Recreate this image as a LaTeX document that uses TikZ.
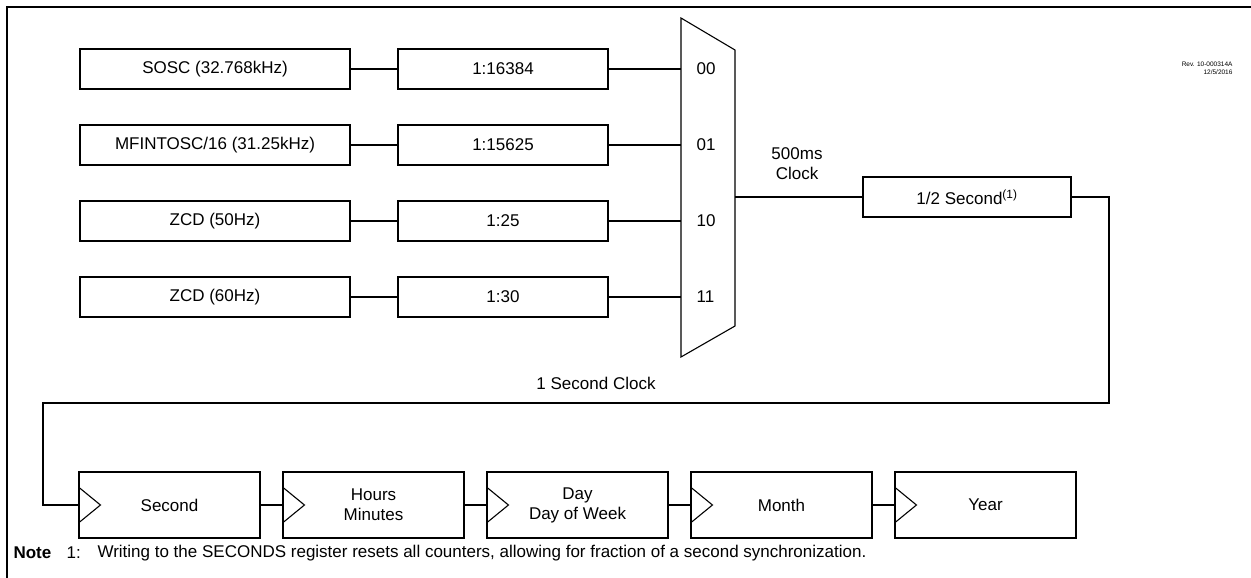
\documentclass[tikz,border=0pt]{standalone}
\usepackage{fontspec}
\setmainfont{Liberation Sans}
\begin{document}
\begin{tikzpicture}[x=1pt,y=-1pt,
  line width=1.1pt,
  txt/.style={font=\fontsize{17}{20}\selectfont, inner sep=0pt},
  srcbox/.style={draw, txt, minimum width=270pt, minimum height=40pt},
  divbox/.style={draw, txt, minimum width=210pt, minimum height=40pt},
  cntbox/.style={draw, txt, minimum width=181pt, minimum height=66pt, align=center},
  wire/.style={line width=1.1pt}]
\useasboundingbox (0,0) rectangle (1251,578);
% frame (left and top)
\draw[line width=1.4pt] (7,578) -- (7,7) -- (1251,7);
% revision
\node[anchor=north east, align=right, font=\fontsize{6.5}{8}\selectfont, inner sep=0pt] (rev) at (1233,61) {Rev. 10-000314A\\12/5/2016};
% sources
\node[srcbox] (s1) at (215,69) {SOSC (32.768kHz)};
\node[srcbox] (s2) at (215,145) {MFINTOSC/16 (31.25kHz)};
\node[srcbox] (s3) at (215,221) {ZCD (50Hz)};
\node[srcbox] (s4) at (215,297) {ZCD (60Hz)};
% dividers
\node[divbox] (d1) at (503,69) {1:16384};
\node[divbox] (d2) at (503,145) {1:15625};
\node[divbox] (d3) at (503,221) {1:25};
\node[divbox] (d4) at (503,297) {1:30};
% mux
\draw (681,18) -- (735,50) -- (735,326) -- (681,357) -- cycle;
\coordinate (m0) at (681,69);
\coordinate (m1) at (681,145);
\coordinate (m2) at (681,221);
\coordinate (m3) at (681,297);
\coordinate (mout) at (735,197);
\node[txt, anchor=west] (l0) at (696,69) {00};
\node[txt, anchor=west] (l1) at (696,145) {01};
\node[txt, anchor=west] (l2) at (696,221) {10};
\node[txt, anchor=west] (l3) at (696,297) {11};
% wires
\foreach \i in {1,2,3,4} \draw[wire] (s\i) -- (d\i);
\draw[wire] (d1) -- (m0);
\draw[wire] (d2) -- (m1);
\draw[wire] (d3) -- (m2);
\draw[wire] (d4) -- (m3);
% half second
\node[divbox, minimum width=208pt] (h) at (967,197) {1/2 Second\textsuperscript{(1)}};
\node[txt, align=center] (clk) at (797,164) {500ms\\Clock};
\draw[wire] (mout) -- (h);
% counters
\node[cntbox] (sec) at (169.5,505) {Second};
\node[cntbox] (hm) at (373.5,505) {Hours\\Minutes};
\node[cntbox] (day) at (577.5,505) {Day\\Day of Week};
\node[cntbox] (mon) at (781.5,505) {Month};
\node[cntbox] (yr) at (985.5,505) {Year};
\foreach \n in {sec,hm,day,mon,yr}
  \draw (\n.west) ++(0,-18) -- ++(22,18) -- ++(-22,18);
\draw[wire] (sec) -- (hm);
\draw[wire] (hm) -- (day);
\draw[wire] (day) -- (mon);
\draw[wire] (mon) -- (yr);
% 1 second loop
\coordinate (c1) at (1109,403);
\coordinate (c2) at (43,403);
\draw[wire] (h.east) -| (c1) -- (c2) |- (sec.west);
\node[txt] (osc) at (596,383) {1 Second Clock};
% note
\node[txt, anchor=west] (nt) at (13,553) {\textbf{Note}};
\node[txt, anchor=west] (nn) at (66,553) {1:};
\node[txt, anchor=west] (ntx) at (97,553) {Writing to the SECONDS register resets all counters, allowing for fraction of a second synchronization.};
\end{tikzpicture}
\end{document}
